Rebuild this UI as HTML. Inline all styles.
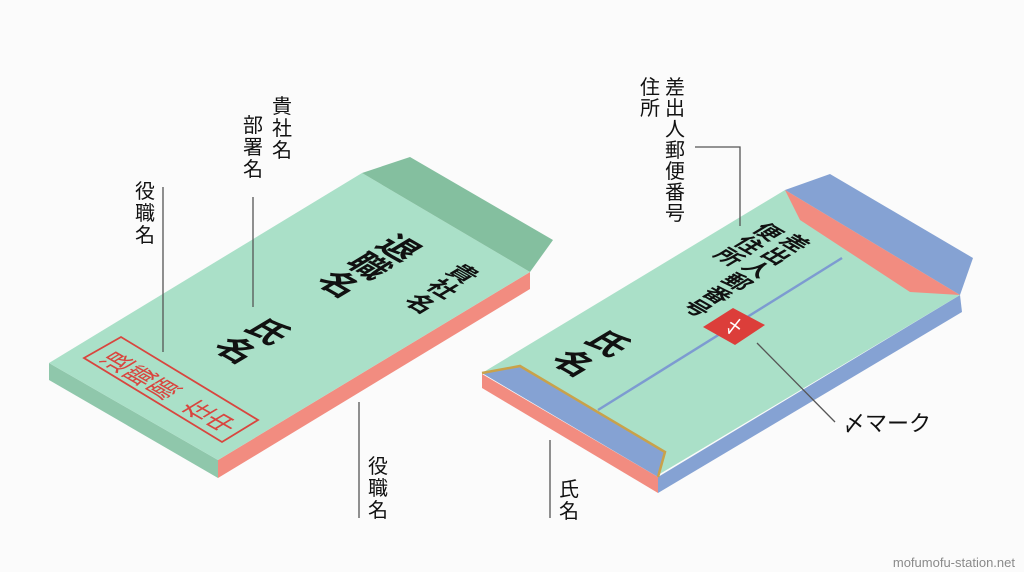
<!DOCTYPE html>
<html><head><meta charset="utf-8"><style>
html,body{margin:0;padding:0;background:#fbfbfb;}
svg{display:block;}
text{font-family:"Liberation Sans","Noto Sans CJK JP",sans-serif;fill:#111;}
</style></head><body>
<svg width="1024" height="572" viewBox="0 0 1024 572" xmlns="http://www.w3.org/2000/svg">
<rect width="1024" height="572" fill="#fbfbfb"/>

<!-- LEFT ENVELOPE -->
<polygon points="49,363 218,460 218,478 49,380" fill="#8fc7ab"/>
<polygon points="218,460 530,272 530,289 218,478" fill="#f28c80"/>
<polygon points="49,363 218,460 530,272 362,173" fill="#aae0c8"/>
<polygon points="362,173 410,157 553,240 530,272" fill="#84bf9f"/>
<polygon points="84,358 121,337 258,420 222,442" fill="none" stroke="#d9453e" stroke-width="1.8"/>

<g font-size="26" text-anchor="middle">
<text transform="matrix(0.857,-0.516,0.867,0.498,118,362)" y="9" style="fill:#d9453e">退</text>
<text transform="matrix(0.857,-0.516,0.867,0.498,141,376)" y="9" style="fill:#d9453e">職</text>
<text transform="matrix(0.857,-0.516,0.867,0.498,164,389)" y="9" style="fill:#d9453e">願</text>
<text transform="matrix(0.857,-0.516,0.867,0.498,199,410)" y="9" style="fill:#d9453e">在</text>
<text transform="matrix(0.857,-0.516,0.867,0.498,222,423)" y="9" style="fill:#d9453e">中</text>
</g>

<g font-size="34" text-anchor="middle" font-weight="bold">
<text transform="matrix(0.867,0.498,-0.857,0.516,268,331)" y="12">氏</text>
<text transform="matrix(0.867,0.498,-0.857,0.516,236,350)" y="12">名</text>
<text transform="matrix(0.867,0.498,-0.857,0.516,399,248)" y="12">退</text>
<text transform="matrix(0.867,0.498,-0.857,0.516,369,266)" y="12">職</text>
<text transform="matrix(0.867,0.498,-0.857,0.516,339,284)" y="12">名</text>
</g>
<g font-size="25" text-anchor="middle" font-weight="bold">
<text transform="matrix(0.867,0.498,-0.857,0.516,462,274)" y="8">貴</text>
<text transform="matrix(0.867,0.498,-0.857,0.516,442,289)" y="8">社</text>
<text transform="matrix(0.867,0.498,-0.857,0.516,420,304)" y="8">名</text>
</g>

<!-- RIGHT ENVELOPE -->
<polygon points="482,374 658,477 658,493 482,388" fill="#f28c80"/>
<polygon points="658,477 960,295 962,312 658,493" fill="#85a2d3"/>
<polygon points="482,373 658,475 960,295 785,190" fill="#aae0c8"/>
<polygon points="785,190 830,174 973,258 960,295" fill="#85a2d3"/>
<polygon points="785,190 800,220 910,292 960,295" fill="#f28c80"/>
<polygon points="482,373 520,366 665,452 658,477" fill="#85a2d3"/>
<polyline points="482,373 520,366 665,452 658,477" fill="none" stroke="#c9a24a" stroke-width="2.5"/>
<line x1="598" y1="410" x2="842" y2="258" stroke="#7d9bd1" stroke-width="2.5"/>
<polygon points="703,327 733,308 765,325 735,345" fill="#dc3e3a"/>
<text x="734" y="333" font-size="18" text-anchor="middle" style="fill:#fff">〆</text>

<g font-size="34" text-anchor="middle" font-weight="bold">
<text transform="matrix(0.867,0.498,-0.857,0.516,608,343)" y="12">氏</text>
<text transform="matrix(0.867,0.498,-0.857,0.516,574,363)" y="12">名</text>
</g>
<g font-size="23" text-anchor="middle" font-weight="bold">
<text transform="matrix(0.867,0.498,-0.857,0.516,795,243)" y="8">差</text>
<text transform="matrix(0.867,0.498,-0.857,0.516,776,256)" y="8">出</text>
<text transform="matrix(0.867,0.498,-0.857,0.516,757,269)" y="8">人</text>
<text transform="matrix(0.867,0.498,-0.857,0.516,737,282)" y="8">郵</text>
<text transform="matrix(0.867,0.498,-0.857,0.516,717,295)" y="8">番</text>
<text transform="matrix(0.867,0.498,-0.857,0.516,697,308)" y="8">号</text>
<text transform="matrix(0.867,0.498,-0.857,0.516,768,232)" y="8">便</text>
<text transform="matrix(0.867,0.498,-0.857,0.516,749,245)" y="8">住</text>
<text transform="matrix(0.867,0.498,-0.857,0.516,729,257)" y="8">所</text>
</g>

<!-- LEADER LINES -->
<g stroke="#555" stroke-width="1.3" fill="none">
<line x1="163" y1="187" x2="163" y2="352"/>
<line x1="253" y1="197" x2="253" y2="307"/>
<line x1="359" y1="402" x2="359" y2="518"/>
<line x1="550" y1="440" x2="550" y2="518"/>
<polyline points="695,147 740,147 740,226"/>
<line x1="757" y1="343" x2="835" y2="422"/>
</g>

<!-- LABELS -->
<g font-size="20" text-anchor="middle">
<text x="282" y="113">貴</text><text x="282" y="135">社</text><text x="282" y="157">名</text>
<text x="253" y="132">部</text><text x="253" y="154">署</text><text x="253" y="176">名</text>
<text x="145" y="198">役</text><text x="145" y="220">職</text><text x="145" y="242">名</text>
<text x="378" y="473">役</text><text x="378" y="495">職</text><text x="378" y="517">名</text>
<text x="569" y="496">氏</text><text x="569" y="518">名</text>
<text x="650" y="94">住</text><text x="650" y="115">所</text>
<text x="675" y="94">差</text><text x="675" y="115">出</text><text x="675" y="136">人</text><text x="675" y="157">郵</text><text x="675" y="178">便</text><text x="675" y="199">番</text><text x="675" y="220">号</text>
</g>
<text x="843" y="431" font-size="22">〆マーク</text>
<text x="1015" y="567" font-size="13" text-anchor="end" style="fill:#8a8a8a">mofumofu-station.net</text>
</svg>
</body></html>
